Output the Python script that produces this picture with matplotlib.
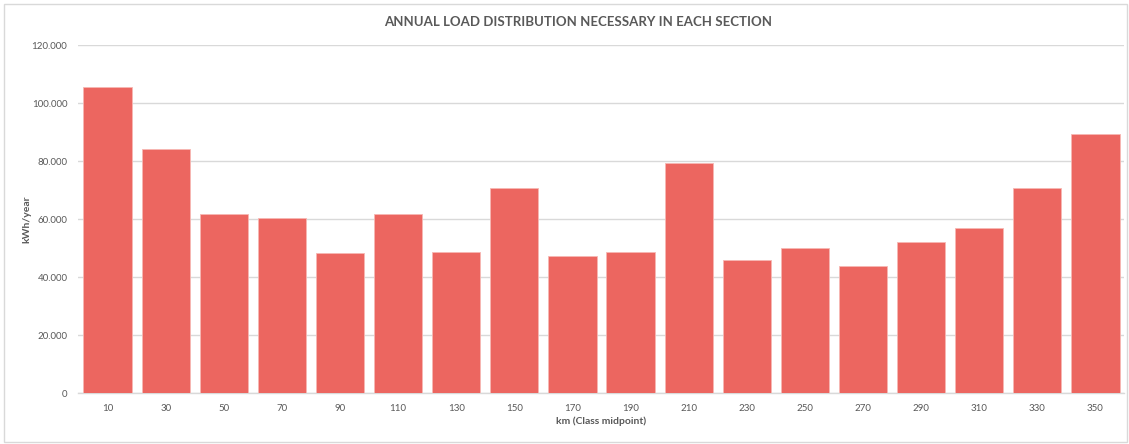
import matplotlib.pyplot as plt
from matplotlib.patches import Rectangle
from matplotlib.ticker import FuncFormatter, MultipleLocator

plt.rcParams['font.family'] = ['Lato', 'DejaVu Sans']

# class midpoints (km) and yearly energy demand per section (kWh/year)
km_midpoints = ['10', '30', '50', '70', '90', '110', '130', '150', '170',
                '190', '210', '230', '250', '270', '290', '310', '330', '350']
load_kwh = [105500, 84100, 61900, 60400, 48400, 61900, 48800, 70700, 47300,
            48800, 79500, 45800, 50000, 43800, 52200, 56900, 70700, 89400]

BAR_COLOR = '#EC6660'
TEXT_COLOR = '#595959'
GRID_COLOR = '#D9D9D9'

fig = plt.figure(figsize=(11.29, 4.44), dpi=100)
ax = fig.add_axes([0.0695, 0.1142, 0.9265, 0.7844])

x = range(len(km_midpoints))
ax.bar(x, load_kwh, width=0.83, color=BAR_COLOR, edgecolor='#F7B7B3',
       linewidth=0.6, zorder=3)

ax.set_xlim(-0.5, len(km_midpoints) - 0.5)
ax.set_ylim(0, 120000)
ax.yaxis.set_major_locator(MultipleLocator(20000))
ax.yaxis.set_major_formatter(FuncFormatter(lambda v, p: f"{int(v):,}".replace(',', '.')))
ax.set_xticks(list(x))
ax.set_xticklabels(km_midpoints)

ax.grid(axis='y', color=GRID_COLOR, linewidth=1.0, zorder=0)
for side in ['top', 'right', 'left']:
    ax.spines[side].set_visible(False)
ax.spines['bottom'].set_color(GRID_COLOR)
ax.spines['bottom'].set_linewidth(1.0)
ax.tick_params(axis='both', length=0, labelsize=7, colors=TEXT_COLOR)
ax.tick_params(axis='y', pad=8)
ax.tick_params(axis='x', pad=8)

# title sits centred on the whole chart area, not on the plot box
ax.set_title('ANNUAL LOAD DISTRIBUTION NECESSARY IN EACH SECTION',
             fontsize=9.5, fontweight='bold', color=TEXT_COLOR, pad=14,
             x=0.478)
ax.set_xlabel('km (Class midpoint)', fontsize=7.5, fontweight='bold',
              color=TEXT_COLOR, labelpad=2)
ax.set_ylabel('kWh/year', fontsize=7.5, fontweight='bold',
              color=TEXT_COLOR, labelpad=0)

# thin frame around the whole chart
fig.patches.append(Rectangle((4 / 1129, 2 / 444), 1123 / 1129, 438 / 444,
                             transform=fig.transFigure, fill=False,
                             edgecolor=GRID_COLOR, linewidth=1.0))

fig.savefig('out.png', dpi=100)
